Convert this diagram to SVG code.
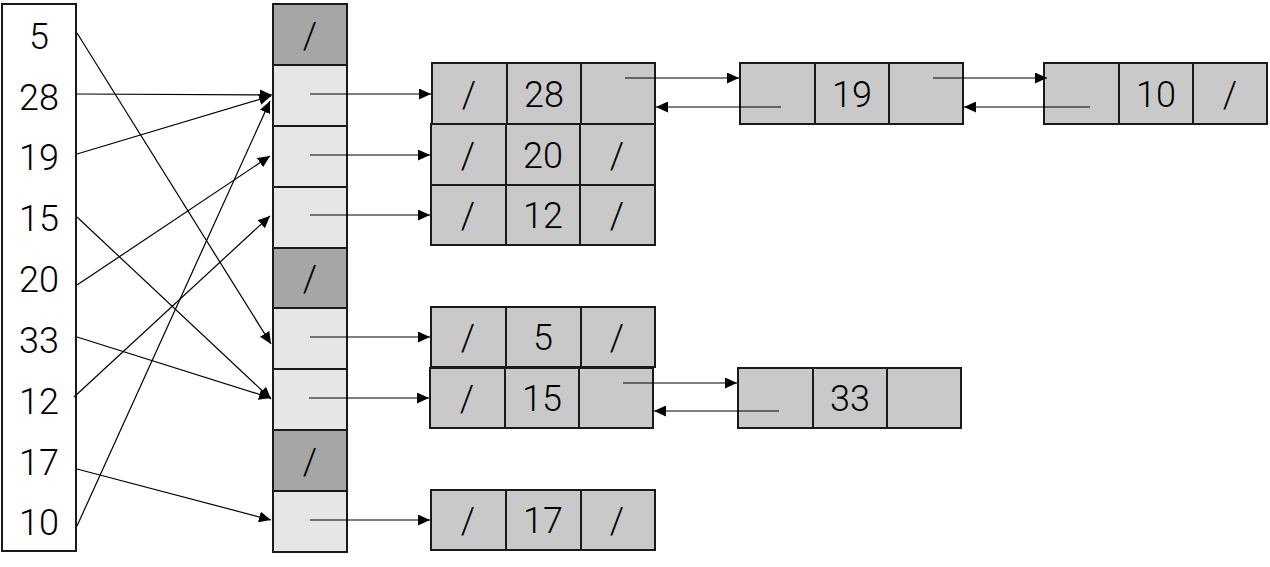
<svg xmlns="http://www.w3.org/2000/svg" width="1270" height="567" viewBox="0 0 1270 567">
<style>
.box{stroke:#1a1a1a;stroke-width:2}
.list{fill:#ffffff}
.dark{fill:#a6a6a6}
.light{fill:#e6e6e6}
.node{fill:#c9c9c9}
text{font-family:Roboto,"Liberation Sans",Arial,sans-serif;font-weight:300;font-size:36px;fill:#000;text-anchor:middle}
.ln{stroke:#000;stroke-width:1.2;fill:none;marker-end:url(#ah)}
</style>
<defs>
<marker id="ah" markerUnits="userSpaceOnUse" markerWidth="13" markerHeight="11" refX="12" refY="5.5" orient="auto">
<path d="M0,0 L12,5.5 L0,11 z" fill="#000"/>
</marker>
</defs>
<rect width="1270" height="567" fill="#fff"/>

<g id="keys">
<rect class="box list" x="2" y="4" width="74" height="547"/>
<text x="39" y="49">5</text>
<text x="39" y="110">28</text>
<text x="39" y="170">19</text>
<text x="39" y="231">15</text>
<text x="39" y="292">20</text>
<text x="39" y="353">33</text>
<text x="39" y="414">12</text>
<text x="39" y="475">17</text>
<text x="39" y="535">10</text>
</g>

<g id="table">
<rect class="box dark" x="273" y="4" width="74" height="61"/>
<text x="310" y="48">/</text>
<rect class="box light" x="273" y="65" width="74" height="61"/>
<rect class="box light" x="273" y="126" width="74" height="61"/>
<rect class="box light" x="273" y="187" width="74" height="61"/>
<rect class="box dark" x="273" y="248" width="74" height="60"/>
<text x="310" y="291">/</text>
<rect class="box light" x="273" y="308" width="74" height="61"/>
<rect class="box light" x="273" y="369" width="74" height="61"/>
<rect class="box dark" x="273" y="430" width="74" height="61"/>
<text x="310" y="474">/</text>
<rect class="box light" x="273" y="491" width="74" height="61"/>
</g>

<g id="n28">
<rect class="box node" x="432" y="63" width="75" height="61"/>
<rect class="box node" x="507" y="63" width="74" height="61"/>
<rect class="box node" x="581" y="63" width="74" height="61"/>
<text x="469" y="107">/</text>
<text x="544" y="107">28</text>
</g>
<g id="n19">
<rect class="box node" x="740" y="63" width="75" height="61"/>
<rect class="box node" x="815" y="63" width="74" height="61"/>
<rect class="box node" x="889" y="63" width="74" height="61"/>
<text x="852" y="107">19</text>
</g>
<g id="n10">
<rect class="box node" x="1044" y="63" width="75" height="61"/>
<rect class="box node" x="1119" y="63" width="74" height="61"/>
<rect class="box node" x="1193" y="63" width="74" height="61"/>
<text x="1156" y="107">10</text>
<text x="1230" y="107">/</text>
</g>
<g id="n20">
<rect class="box node" x="431" y="124" width="75" height="61"/>
<rect class="box node" x="506" y="124" width="74" height="61"/>
<rect class="box node" x="580" y="124" width="75" height="61"/>
<text x="468" y="168">/</text>
<text x="543" y="168">20</text>
<text x="617" y="168">/</text>
</g>
<g id="n12">
<rect class="box node" x="431" y="185" width="75" height="60"/>
<rect class="box node" x="506" y="185" width="74" height="60"/>
<rect class="box node" x="580" y="185" width="75" height="60"/>
<text x="468" y="228">/</text>
<text x="543" y="228">12</text>
<text x="617" y="228">/</text>
</g>
<g id="n5">
<rect class="box node" x="431" y="307" width="75" height="60"/>
<rect class="box node" x="506" y="307" width="75" height="60"/>
<rect class="box node" x="581" y="307" width="74" height="60"/>
<text x="468" y="350">/</text>
<text x="543" y="350">5</text>
<text x="617" y="350">/</text>
</g>
<g id="n15">
<rect class="box node" x="430" y="368" width="75" height="60"/>
<rect class="box node" x="505" y="368" width="74" height="60"/>
<rect class="box node" x="579" y="368" width="74" height="60"/>
<text x="467" y="411">/</text>
<text x="542" y="411">15</text>
</g>
<g id="n33">
<rect class="box node" x="738" y="368" width="75" height="60"/>
<rect class="box node" x="813" y="368" width="74" height="60"/>
<rect class="box node" x="887" y="368" width="74" height="60"/>
<text x="850" y="411">33</text>
</g>
<g id="n17">
<rect class="box node" x="431" y="490" width="75" height="60"/>
<rect class="box node" x="506" y="490" width="75" height="60"/>
<rect class="box node" x="581" y="490" width="74" height="60"/>
<text x="468" y="533">/</text>
<text x="543" y="533">17</text>
<text x="617" y="533">/</text>
</g>

<g id="connectors">
<line class="ln" x1="77" y1="33" x2="271" y2="344"/>
<line class="ln" x1="77" y1="94" x2="272" y2="95"/>
<line class="ln" x1="77" y1="154" x2="271" y2="96"/>
<line class="ln" x1="77" y1="217" x2="271" y2="399"/>
<line class="ln" x1="77" y1="285" x2="270" y2="156"/>
<line class="ln" x1="77" y1="337" x2="271" y2="398"/>
<line class="ln" x1="74" y1="397" x2="270" y2="216"/>
<line class="ln" x1="77" y1="469" x2="271" y2="520"/>
<line class="ln" x1="77" y1="526" x2="270" y2="101"/>

<line class="ln" x1="310" y1="94" x2="431" y2="94"/>
<line class="ln" x1="310" y1="155" x2="430" y2="155"/>
<line class="ln" x1="310" y1="215" x2="430" y2="215"/>
<line class="ln" x1="310" y1="337" x2="430" y2="337"/>
<line class="ln" x1="309" y1="398" x2="429" y2="398"/>
<line class="ln" x1="310" y1="520" x2="430" y2="520"/>

<line class="ln" x1="625" y1="78" x2="739" y2="78"/>
<line class="ln" x1="781" y1="107" x2="656" y2="107"/>
<line class="ln" x1="933" y1="78" x2="1047" y2="78"/>
<line class="ln" x1="1090" y1="107" x2="964" y2="107"/>
<line class="ln" x1="623" y1="383" x2="737" y2="383"/>
<line class="ln" x1="779" y1="411" x2="654" y2="411"/>
</g>
</svg>
